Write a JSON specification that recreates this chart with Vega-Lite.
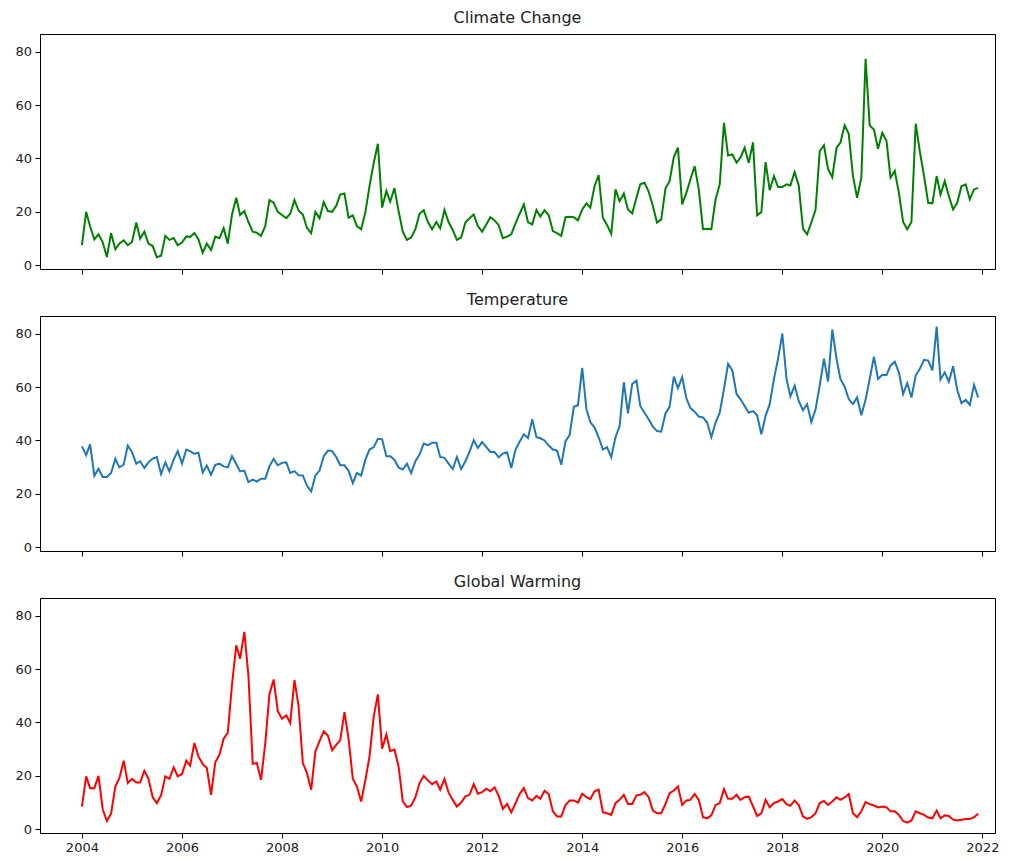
{
"$schema": "https://vega.github.io/schema/vega-lite/v6.json",
"background": "white",
"padding": {"left": 14, "top": 9, "right": 5, "bottom": 5},
"config": {
  "font": "DejaVu Sans",
  "view": {"stroke": "black", "strokeWidth": 1},
  "axis": {"grid": false, "domainColor": "black", "tickColor": "black", "labelColor": "#222", "labelFont": "DejaVu Sans", "labelFontSize": 13, "tickSize": 5, "labelPadding": 3.5, "title": null, "domainWidth": 1, "tickWidth": 1},
  "title": {"font": "DejaVu Sans", "fontSize": 16, "fontWeight": "normal", "color": "#222", "offset": 8, "anchor": "middle", "frame": "group"}
},
"spacing": 16,
"data": {"values": [
{"month":"2004-01-01","cc":7.5,"temp":37.8,"gw":8.5},
{"month":"2004-02-01","cc":20,"temp":34.5,"gw":19.8},
{"month":"2004-03-01","cc":14.5,"temp":38.5,"gw":15.4},
{"month":"2004-04-01","cc":9.7,"temp":26.8,"gw":15.4},
{"month":"2004-05-01","cc":11.6,"temp":29.4,"gw":20},
{"month":"2004-06-01","cc":8.6,"temp":26.3,"gw":7.5},
{"month":"2004-07-01","cc":3.1,"temp":26.3,"gw":3.1},
{"month":"2004-08-01","cc":12,"temp":27.8,"gw":5.8},
{"month":"2004-09-01","cc":6,"temp":33.1,"gw":16},
{"month":"2004-10-01","cc":8.2,"temp":29.9,"gw":19.2},
{"month":"2004-11-01","cc":9.3,"temp":30.9,"gw":25.7},
{"month":"2004-12-01","cc":7.5,"temp":38.1,"gw":17.3},
{"month":"2005-01-01","cc":8.7,"temp":35.6,"gw":18.9},
{"month":"2005-02-01","cc":16,"temp":31.3,"gw":17.5},
{"month":"2005-03-01","cc":10,"temp":32.2,"gw":17.5},
{"month":"2005-04-01","cc":12.6,"temp":29.7,"gw":21.9},
{"month":"2005-05-01","cc":8.1,"temp":31.8,"gw":18.9},
{"month":"2005-06-01","cc":7.2,"temp":33.2,"gw":12},
{"month":"2005-07-01","cc":3,"temp":33.8,"gw":9.8},
{"month":"2005-08-01","cc":3.6,"temp":27.4,"gw":12.7},
{"month":"2005-09-01","cc":11,"temp":31.8,"gw":19.8},
{"month":"2005-10-01","cc":9.5,"temp":28.4,"gw":18.9},
{"month":"2005-11-01","cc":10.2,"temp":32.8,"gw":23.2},
{"month":"2005-12-01","cc":7.5,"temp":36,"gw":19.8},
{"month":"2006-01-01","cc":8.5,"temp":31.3,"gw":20.7},
{"month":"2006-02-01","cc":10.8,"temp":36.6,"gw":25.7},
{"month":"2006-03-01","cc":10.6,"temp":36,"gw":23.8},
{"month":"2006-04-01","cc":12.1,"temp":35,"gw":32.3},
{"month":"2006-05-01","cc":9.7,"temp":35.4,"gw":27.3},
{"month":"2006-06-01","cc":4.7,"temp":28,"gw":24.4},
{"month":"2006-07-01","cc":8.1,"temp":30.6,"gw":22.9},
{"month":"2006-08-01","cc":5.7,"temp":27.2,"gw":12.9},
{"month":"2006-09-01","cc":10.7,"temp":30.9,"gw":25.1},
{"month":"2006-10-01","cc":10.1,"temp":31.3,"gw":27.9},
{"month":"2006-11-01","cc":13.9,"temp":30.3,"gw":33.9},
{"month":"2006-12-01","cc":8.1,"temp":29.9,"gw":36.1},
{"month":"2007-01-01","cc":19,"temp":34.1,"gw":54.2},
{"month":"2007-02-01","cc":25.3,"temp":31.2,"gw":68.9},
{"month":"2007-03-01","cc":18.8,"temp":28.4,"gw":63.9},
{"month":"2007-04-01","cc":20.3,"temp":28.7,"gw":73.9},
{"month":"2007-05-01","cc":16.2,"temp":24.4,"gw":57.4},
{"month":"2007-06-01","cc":12.6,"temp":25.3,"gw":24.5},
{"month":"2007-07-01","cc":12.2,"temp":24.6,"gw":24.8},
{"month":"2007-08-01","cc":11,"temp":25.7,"gw":18.5},
{"month":"2007-09-01","cc":14.7,"temp":25.7,"gw":32.3},
{"month":"2007-10-01","cc":24.4,"temp":30.3,"gw":50.5},
{"month":"2007-11-01","cc":23.4,"temp":33.1,"gw":56.1},
{"month":"2007-12-01","cc":20,"temp":30.7,"gw":44.2},
{"month":"2008-01-01","cc":18.8,"temp":31.6,"gw":41.4},
{"month":"2008-02-01","cc":17.6,"temp":31.8,"gw":42.7},
{"month":"2008-03-01","cc":19.3,"temp":27.8,"gw":39.8},
{"month":"2008-04-01","cc":24.4,"temp":28.5,"gw":55.9},
{"month":"2008-05-01","cc":20.5,"temp":27,"gw":46.1},
{"month":"2008-06-01","cc":19,"temp":26.9,"gw":24.8},
{"month":"2008-07-01","cc":14,"temp":23.1,"gw":21.1},
{"month":"2008-08-01","cc":12,"temp":20.9,"gw":14.8},
{"month":"2008-09-01","cc":20,"temp":26.9,"gw":29.2},
{"month":"2008-10-01","cc":17.6,"temp":28.7,"gw":33},
{"month":"2008-11-01","cc":23.7,"temp":34.1,"gw":36.7},
{"month":"2008-12-01","cc":20.3,"temp":36.2,"gw":35.1},
{"month":"2009-01-01","cc":20,"temp":36,"gw":29.6},
{"month":"2009-02-01","cc":22.4,"temp":33.7,"gw":31.7},
{"month":"2009-03-01","cc":26.5,"temp":30.7,"gw":33.3},
{"month":"2009-04-01","cc":26.9,"temp":30.7,"gw":43.9},
{"month":"2009-05-01","cc":17.8,"temp":28.7,"gw":33.9},
{"month":"2009-06-01","cc":18.7,"temp":24,"gw":18.9},
{"month":"2009-07-01","cc":14.7,"temp":27.8,"gw":16},
{"month":"2009-08-01","cc":13.5,"temp":26.9,"gw":10.4},
{"month":"2009-09-01","cc":19.9,"temp":32.8,"gw":18.5},
{"month":"2009-10-01","cc":29.6,"temp":36.6,"gw":27.3},
{"month":"2009-11-01","cc":38.4,"temp":37.5,"gw":42.4},
{"month":"2009-12-01","cc":45.5,"temp":40.6,"gw":50.5},
{"month":"2010-01-01","cc":21.6,"temp":40.4,"gw":30.2},
{"month":"2010-02-01","cc":27.8,"temp":34.1,"gw":35.5},
{"month":"2010-03-01","cc":23.8,"temp":34.1,"gw":29.2},
{"month":"2010-04-01","cc":28.9,"temp":32.8,"gw":29.8},
{"month":"2010-05-01","cc":20.3,"temp":29.9,"gw":23.6},
{"month":"2010-06-01","cc":12.6,"temp":29.1,"gw":10.4},
{"month":"2010-07-01","cc":9.5,"temp":31.3,"gw":8.3},
{"month":"2010-08-01","cc":10.4,"temp":27.8,"gw":8.8},
{"month":"2010-09-01","cc":13.5,"temp":32.2,"gw":12},
{"month":"2010-10-01","cc":19.3,"temp":34.7,"gw":17.3},
{"month":"2010-11-01","cc":20.6,"temp":38.8,"gw":20},
{"month":"2010-12-01","cc":16.2,"temp":38.2,"gw":18.3},
{"month":"2011-01-01","cc":13.5,"temp":39.1,"gw":16.9},
{"month":"2011-02-01","cc":16.2,"temp":39.1,"gw":17.9},
{"month":"2011-03-01","cc":13.8,"temp":33.8,"gw":14.8},
{"month":"2011-04-01","cc":20.7,"temp":33.5,"gw":18.8},
{"month":"2011-05-01","cc":16.2,"temp":31.3,"gw":13.8},
{"month":"2011-06-01","cc":13.2,"temp":29.3,"gw":11},
{"month":"2011-07-01","cc":9.5,"temp":33.8,"gw":8.5},
{"month":"2011-08-01","cc":10.4,"temp":29.3,"gw":10},
{"month":"2011-09-01","cc":16,"temp":32.2,"gw":12.3},
{"month":"2011-10-01","cc":17.6,"temp":35.7,"gw":12.9},
{"month":"2011-11-01","cc":19,"temp":40.1,"gw":16.9},
{"month":"2011-12-01","cc":14.7,"temp":37.2,"gw":13.3},
{"month":"2012-01-01","cc":12.6,"temp":39.4,"gw":13.9},
{"month":"2012-02-01","cc":15.3,"temp":37.5,"gw":15.2},
{"month":"2012-03-01","cc":18,"temp":35.7,"gw":14.2},
{"month":"2012-04-01","cc":16.8,"temp":35.7,"gw":15.7},
{"month":"2012-05-01","cc":15,"temp":33.7,"gw":12.5},
{"month":"2012-06-01","cc":10.1,"temp":35.1,"gw":7.6},
{"month":"2012-07-01","cc":10.7,"temp":35.6,"gw":9.5},
{"month":"2012-08-01","cc":11.6,"temp":29.7,"gw":6.3},
{"month":"2012-09-01","cc":15.7,"temp":36.6,"gw":9.8},
{"month":"2012-10-01","cc":19.3,"temp":39.5,"gw":13.2},
{"month":"2012-11-01","cc":22.8,"temp":42.3,"gw":15.4},
{"month":"2012-12-01","cc":16.2,"temp":40.9,"gw":11.7},
{"month":"2013-01-01","cc":15.3,"temp":47.9,"gw":10.8},
{"month":"2013-02-01","cc":20.7,"temp":41.2,"gw":12.5},
{"month":"2013-03-01","cc":18.2,"temp":40.8,"gw":11.4},
{"month":"2013-04-01","cc":20.6,"temp":40,"gw":14.4},
{"month":"2013-05-01","cc":18.8,"temp":38.1,"gw":13.2},
{"month":"2013-06-01","cc":12.8,"temp":36.6,"gw":6.7},
{"month":"2013-07-01","cc":12,"temp":36.2,"gw":4.8},
{"month":"2013-08-01","cc":11,"temp":30.9,"gw":4.8},
{"month":"2013-09-01","cc":18,"temp":39.7,"gw":9.1},
{"month":"2013-10-01","cc":18.2,"temp":42,"gw":10.8},
{"month":"2013-11-01","cc":18,"temp":52.6,"gw":10.8},
{"month":"2013-12-01","cc":16.8,"temp":53.2,"gw":10},
{"month":"2014-01-01","cc":20.9,"temp":67.2,"gw":13.3},
{"month":"2014-02-01","cc":23.2,"temp":51.7,"gw":12},
{"month":"2014-03-01","cc":21.6,"temp":46.9,"gw":11.3},
{"month":"2014-04-01","cc":29.6,"temp":44.8,"gw":14.2},
{"month":"2014-05-01","cc":33.8,"temp":41.2,"gw":14.8},
{"month":"2014-06-01","cc":17.8,"temp":36.6,"gw":6.4},
{"month":"2014-07-01","cc":15.1,"temp":37.5,"gw":6},
{"month":"2014-08-01","cc":11.8,"temp":33.7,"gw":5.4},
{"month":"2014-09-01","cc":28.4,"temp":41.2,"gw":9.8},
{"month":"2014-10-01","cc":24,"temp":45.4,"gw":11},
{"month":"2014-11-01","cc":26.9,"temp":61.8,"gw":12.9},
{"month":"2014-12-01","cc":20.9,"temp":50.1,"gw":9.5},
{"month":"2015-01-01","cc":19.4,"temp":61.1,"gw":9.5},
{"month":"2015-02-01","cc":25.3,"temp":62.4,"gw":12.7},
{"month":"2015-03-01","cc":30.3,"temp":52.9,"gw":12.9},
{"month":"2015-04-01","cc":30.9,"temp":50.4,"gw":13.9},
{"month":"2015-05-01","cc":27.6,"temp":47.9,"gw":12},
{"month":"2015-06-01","cc":22.2,"temp":45.2,"gw":7},
{"month":"2015-07-01","cc":16,"temp":43.5,"gw":6},
{"month":"2015-08-01","cc":17.2,"temp":43.3,"gw":6},
{"month":"2015-09-01","cc":28.7,"temp":50.1,"gw":9.5},
{"month":"2015-10-01","cc":31.5,"temp":52.6,"gw":13.5},
{"month":"2015-11-01","cc":40.5,"temp":63.9,"gw":14.5},
{"month":"2015-12-01","cc":44,"temp":59.6,"gw":16},
{"month":"2016-01-01","cc":22.8,"temp":63.7,"gw":9.1},
{"month":"2016-02-01","cc":27.2,"temp":55.7,"gw":10.8},
{"month":"2016-03-01","cc":32.1,"temp":52.1,"gw":11},
{"month":"2016-04-01","cc":37.1,"temp":50.8,"gw":13.2},
{"month":"2016-05-01","cc":28.4,"temp":48.9,"gw":11},
{"month":"2016-06-01","cc":13.5,"temp":48.6,"gw":4.5},
{"month":"2016-07-01","cc":13.7,"temp":46.7,"gw":4.1},
{"month":"2016-08-01","cc":13.5,"temp":41.2,"gw":5.2},
{"month":"2016-09-01","cc":24.7,"temp":46.7,"gw":9.1},
{"month":"2016-10-01","cc":30.3,"temp":50.4,"gw":9.8},
{"month":"2016-11-01","cc":53.3,"temp":59.2,"gw":15},
{"month":"2016-12-01","cc":41.1,"temp":68.7,"gw":11.4},
{"month":"2017-01-01","cc":41.5,"temp":66.2,"gw":11.4},
{"month":"2017-02-01","cc":38.4,"temp":57.4,"gw":12.9},
{"month":"2017-03-01","cc":40.3,"temp":55.5,"gw":11},
{"month":"2017-04-01","cc":44,"temp":52.9,"gw":12},
{"month":"2017-05-01","cc":38.4,"temp":50.4,"gw":12.2},
{"month":"2017-06-01","cc":46,"temp":51,"gw":8.6},
{"month":"2017-07-01","cc":18.7,"temp":49.4,"gw":5},
{"month":"2017-08-01","cc":19.9,"temp":42.3,"gw":6},
{"month":"2017-09-01","cc":38.6,"temp":49.2,"gw":11},
{"month":"2017-10-01","cc":28.1,"temp":53.6,"gw":8.2},
{"month":"2017-11-01","cc":33.4,"temp":63,"gw":9.8},
{"month":"2017-12-01","cc":29.3,"temp":70.6,"gw":10.4},
{"month":"2018-01-01","cc":29.3,"temp":80,"gw":11.3},
{"month":"2018-02-01","cc":30.3,"temp":63,"gw":9.4},
{"month":"2018-03-01","cc":29.9,"temp":56.5,"gw":8.8},
{"month":"2018-04-01","cc":34.9,"temp":60.5,"gw":10.8},
{"month":"2018-05-01","cc":29.9,"temp":54.8,"gw":9.1},
{"month":"2018-06-01","cc":13.7,"temp":51.3,"gw":4.8},
{"month":"2018-07-01","cc":11.6,"temp":53.6,"gw":3.9},
{"month":"2018-08-01","cc":16,"temp":46.9,"gw":4.5},
{"month":"2018-09-01","cc":20.9,"temp":51.7,"gw":6},
{"month":"2018-10-01","cc":42.7,"temp":60.5,"gw":9.8},
{"month":"2018-11-01","cc":44.9,"temp":70.6,"gw":10.6},
{"month":"2018-12-01","cc":36.1,"temp":62,"gw":9.1},
{"month":"2019-01-01","cc":33,"temp":81.5,"gw":10.4},
{"month":"2019-02-01","cc":44,"temp":70.6,"gw":12},
{"month":"2019-03-01","cc":45.9,"temp":63,"gw":11},
{"month":"2019-04-01","cc":52.4,"temp":60.1,"gw":11.9},
{"month":"2019-05-01","cc":49.2,"temp":55.5,"gw":13.2},
{"month":"2019-06-01","cc":33.4,"temp":53.6,"gw":6},
{"month":"2019-07-01","cc":25.3,"temp":56.1,"gw":4.5},
{"month":"2019-08-01","cc":32.8,"temp":49.4,"gw":6.7},
{"month":"2019-09-01","cc":77.3,"temp":55.2,"gw":10.2},
{"month":"2019-10-01","cc":52.4,"temp":63,"gw":9.4},
{"month":"2019-11-01","cc":50.8,"temp":71.4,"gw":8.9},
{"month":"2019-12-01","cc":43.6,"temp":63,"gw":8.2},
{"month":"2020-01-01","cc":49.6,"temp":64.6,"gw":8.5},
{"month":"2020-02-01","cc":46.5,"temp":64.5,"gw":8.2},
{"month":"2020-03-01","cc":32.8,"temp":68,"gw":6.7},
{"month":"2020-04-01","cc":35.3,"temp":69.5,"gw":6.7},
{"month":"2020-05-01","cc":27.2,"temp":65.5,"gw":5.4},
{"month":"2020-06-01","cc":16.2,"temp":57.4,"gw":3.1},
{"month":"2020-07-01","cc":13.5,"temp":61.5,"gw":2.5},
{"month":"2020-08-01","cc":16.2,"temp":56.1,"gw":3.3},
{"month":"2020-09-01","cc":53,"temp":64.3,"gw":6.7},
{"month":"2020-10-01","cc":42.7,"temp":66.8,"gw":6},
{"month":"2020-11-01","cc":33.4,"temp":70.2,"gw":5.4},
{"month":"2020-12-01","cc":23.4,"temp":69.9,"gw":4.4},
{"month":"2021-01-01","cc":23.2,"temp":66.2,"gw":4.1},
{"month":"2021-02-01","cc":33.4,"temp":82.6,"gw":7},
{"month":"2021-03-01","cc":26.5,"temp":62.8,"gw":4.1},
{"month":"2021-04-01","cc":31.5,"temp":65.5,"gw":5.2},
{"month":"2021-05-01","cc":25.9,"temp":62,"gw":5},
{"month":"2021-06-01","cc":20.9,"temp":67.8,"gw":3.6},
{"month":"2021-07-01","cc":23.4,"temp":59,"gw":3.3},
{"month":"2021-08-01","cc":29.6,"temp":54,"gw":3.6},
{"month":"2021-09-01","cc":30.3,"temp":55.2,"gw":3.8},
{"month":"2021-10-01","cc":24.7,"temp":53.3,"gw":3.8},
{"month":"2021-11-01","cc":28.4,"temp":60.8,"gw":4.5},
{"month":"2021-12-01","cc":29,"temp":56.1,"gw":5.8}
]},
"vconcat": [
{
  "title": "Climate Change",
  "width": 955, "height": 235,
  "mark": {"type": "line", "color": "#008000", "strokeWidth": 2},
  "encoding": {
    "x": {"field": "month", "type": "temporal", "scale": {"type": "utc", "domain": [1046476800000, 1648944000000]}, "axis": {"labels": false, "values": [1072915200000,1136073600000,1199145600000,1262304000000,1325376000000,1388534400000,1451606400000,1514764800000,1577836800000,1640995200000]}},
    "y": {"field": "cc", "type": "quantitative", "scale": {"domain": [-1.4, 86.6], "nice": false, "zero": false}, "axis": {"values": [0, 20, 40, 60, 80]}}
  }
},
{
  "title": "Temperature",
  "width": 955, "height": 235,
  "mark": {"type": "line", "color": "#1f77b4", "strokeWidth": 2},
  "encoding": {
    "x": {"field": "month", "type": "temporal", "scale": {"type": "utc", "domain": [1046476800000, 1648944000000]}, "axis": {"labels": false, "values": [1072915200000,1136073600000,1199145600000,1262304000000,1325376000000,1388534400000,1451606400000,1514764800000,1577836800000,1640995200000]}},
    "y": {"field": "temp", "type": "quantitative", "scale": {"domain": [-1.4, 86.6], "nice": false, "zero": false}, "axis": {"values": [0, 20, 40, 60, 80]}}
  }
},
{
  "title": "Global Warming",
  "width": 955, "height": 235,
  "mark": {"type": "line", "color": "#ff0000", "strokeWidth": 2},
  "encoding": {
    "x": {"field": "month", "type": "temporal", "scale": {"type": "utc", "domain": [1046476800000, 1648944000000]}, "axis": {"format": "%Y", "values": [1072915200000,1136073600000,1199145600000,1262304000000,1325376000000,1388534400000,1451606400000,1514764800000,1577836800000,1640995200000]}},
    "y": {"field": "gw", "type": "quantitative", "scale": {"domain": [-1.4, 86.6], "nice": false, "zero": false}, "axis": {"values": [0, 20, 40, 60, 80]}}
  }
}
]
}
